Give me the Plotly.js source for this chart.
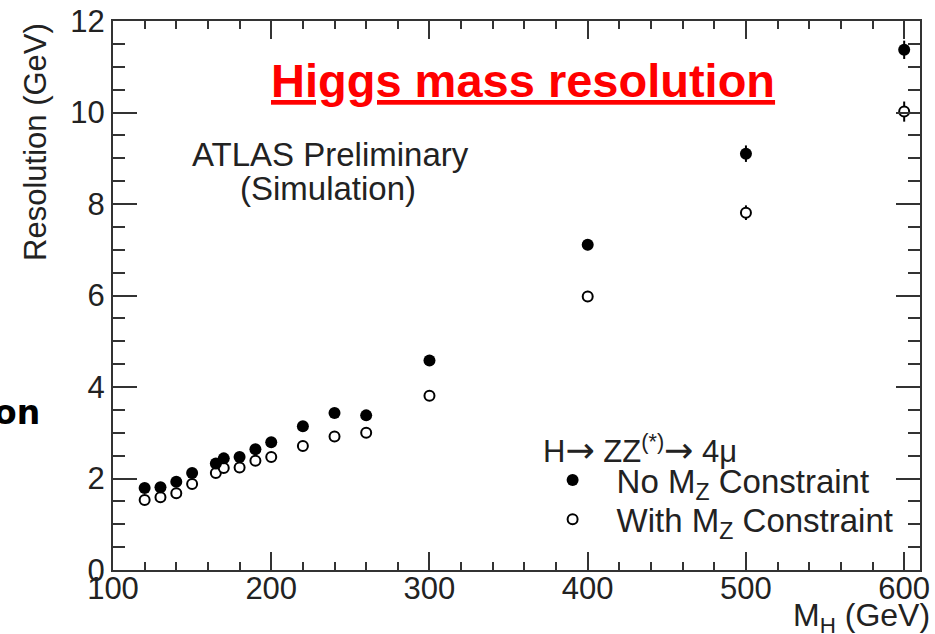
<!DOCTYPE html>
<html>
<head>
<meta charset="utf-8">
<script src="https://cdn.plot.ly/plotly-3.0.1.min.js"></script>
<style>
  html, body { margin: 0; padding: 0; background: #ffffff; }
  #chart { width: 935px; height: 634px; }
</style>
</head>
<body>
<div id="chart"></div>
<script>
// Higgs boson mass points (GeV)
const massH = [120, 130, 140, 150, 165, 170, 180, 190, 200, 220, 240, 260, 300, 400, 500, 600];

// Four-muon mass resolution without the Z-mass constraint (GeV)
const resNoMZ = [1.79, 1.81, 1.93, 2.12, 2.33, 2.44, 2.47, 2.64, 2.79, 3.14, 3.43, 3.38, 4.58, 7.11, 9.10, 11.37];
const errNoMZ = [0.03, 0.03, 0.03, 0.03, 0.03, 0.03, 0.03, 0.04, 0.04, 0.05, 0.05, 0.05, 0.08, 0.12, 0.18, 0.20];

// Four-muon mass resolution with the Z-mass constraint (GeV)
const resWithMZ = [1.53, 1.59, 1.68, 1.88, 2.12, 2.23, 2.24, 2.39, 2.47, 2.71, 2.92, 3.00, 3.81, 5.98, 7.81, 10.02];
const errWithMZ = [0.03, 0.03, 0.03, 0.03, 0.03, 0.03, 0.03, 0.04, 0.04, 0.05, 0.05, 0.05, 0.08, 0.12, 0.16, 0.22];

// Axis ticks
const xTicks = [100, 200, 300, 400, 500, 600];
const yTicks = [0, 2, 4, 6, 8, 10, 12];

const FONT = 'Liberation Sans, Arial, Helvetica, sans-serif';
const INK = '#222222';
const FRAME = '#333333';
const ARROW = '<span style="font-family:DejaVu Sans;font-size:35px">\u2192</span>';

const traces = [
  {
    name: 'With M<sub>Z</sub> Constraint',
    legend: 'legend2',
    x: massH, y: resWithMZ,
    mode: 'markers', type: 'scatter',
    marker: { symbol: 'circle', size: 10, color: '#ffffff', line: { color: '#000000', width: 2 } },
    error_y: { type: 'data', array: errWithMZ, visible: true, color: '#000000', thickness: 2, width: 0 },
    hoverinfo: 'x+y'
  },
  {
    name: 'No M<sub>Z</sub> Constraint',
    legend: 'legend',
    x: massH, y: resNoMZ,
    mode: 'markers', type: 'scatter',
    marker: { symbol: 'circle', size: 12, color: '#000000' },
    error_y: { type: 'data', array: errNoMZ, visible: true, color: '#000000', thickness: 2, width: 0 },
    hoverinfo: 'x+y'
  }
];

const axisCommon = {
  showline: true, linewidth: 2, linecolor: FRAME,
  mirror: 'ticks', ticks: 'inside', tickwidth: 2, tickcolor: FRAME,
  showgrid: false, zeroline: false,
  tickfont: { family: FONT, size: 31, color: INK }
};

const legendCommon = {
  xanchor: 'left', yanchor: 'top',
  bgcolor: 'rgba(0,0,0,0)', borderwidth: 0,
  itemwidth: 78,
  font: { family: FONT, size: 33, color: INK }
};

const layout = {
  width: 935, height: 634,
  margin: { l: 113, r: 15, t: 21, b: 64, pad: 0 },
  paper_bgcolor: '#ffffff', plot_bgcolor: '#ffffff',
  showlegend: true,
  legend: Object.assign({}, legendCommon, { x: 0.515, y: 0.2147 }),
  legend2: Object.assign({}, legendCommon, { x: 0.515, y: 0.1435 }),
  xaxis: Object.assign({}, axisCommon, {
    range: [100, 610], tickvals: xTicks, ticklen: 18, ticklabelstandoff: -10,
    minor: { dtick: 20, tick0: 100, ticks: 'inside', ticklen: 8, tickwidth: 2, tickcolor: FRAME, showgrid: false }
  }),
  yaxis: Object.assign({}, axisCommon, {
    range: [0, 12], tickvals: yTicks, ticklen: 24,
    minor: { dtick: 0.5, tick0: 0, ticks: 'inside', ticklen: 12, tickwidth: 2, tickcolor: FRAME, showgrid: false }
  }),
  annotations: [
    {
      text: 'Higgs mass resolution',
      xref: 'paper', yref: 'paper', x: 0.508, y: 0.8925, xanchor: 'center', yanchor: 'middle',
      showarrow: false,
      font: { family: FONT, size: 47, color: '#ff0000', weight: 'bold', lineposition: 'under' }
    },
    {
      text: 'ATLAS Preliminary',
      xref: 'paper', yref: 'paper', x: 0.269, y: 0.756, xanchor: 'center', yanchor: 'middle',
      showarrow: false, font: { family: FONT, size: 33, color: INK }
    },
    {
      text: '(Simulation)',
      xref: 'paper', yref: 'paper', x: 0.266, y: 0.694, xanchor: 'center', yanchor: 'middle',
      showarrow: false, font: { family: FONT, size: 33, color: INK }
    },
    {
      text: 'H' + ARROW + ' ZZ<sup>(*)</sup>' + ARROW + ' 4\u03bc',
      xref: 'paper', yref: 'paper', x: 0.530, y: 0.2186, xanchor: 'left', yanchor: 'middle',
      showarrow: false, font: { family: FONT, size: 31, color: INK }
    },
    {
      text: 'Resolution (GeV)',
      xref: 'paper', yref: 'paper', x: -0.0967, y: 1.0, xanchor: 'center', yanchor: 'top',
      textangle: -90, showarrow: false, font: { family: FONT, size: 31, color: INK }
    },
    {
      text: 'M<sub>H</sub> (GeV)',
      xref: 'paper', yref: 'paper', x: 1.015, y: -0.086, xanchor: 'right', yanchor: 'middle',
      showarrow: false, font: { family: FONT, size: 32, color: INK }
    },
    {
      text: 'on',
      xref: 'paper', yref: 'paper', x: -0.088, y: 0.286, xanchor: 'right', yanchor: 'middle',
      showarrow: false, font: { family: 'DejaVu Sans, sans-serif', size: 33, color: '#000000', weight: 'bold' }
    }
  ]
};

Plotly.newPlot('chart', traces, layout, { displayModeBar: false, staticPlot: true });
</script>
</body>
</html>
